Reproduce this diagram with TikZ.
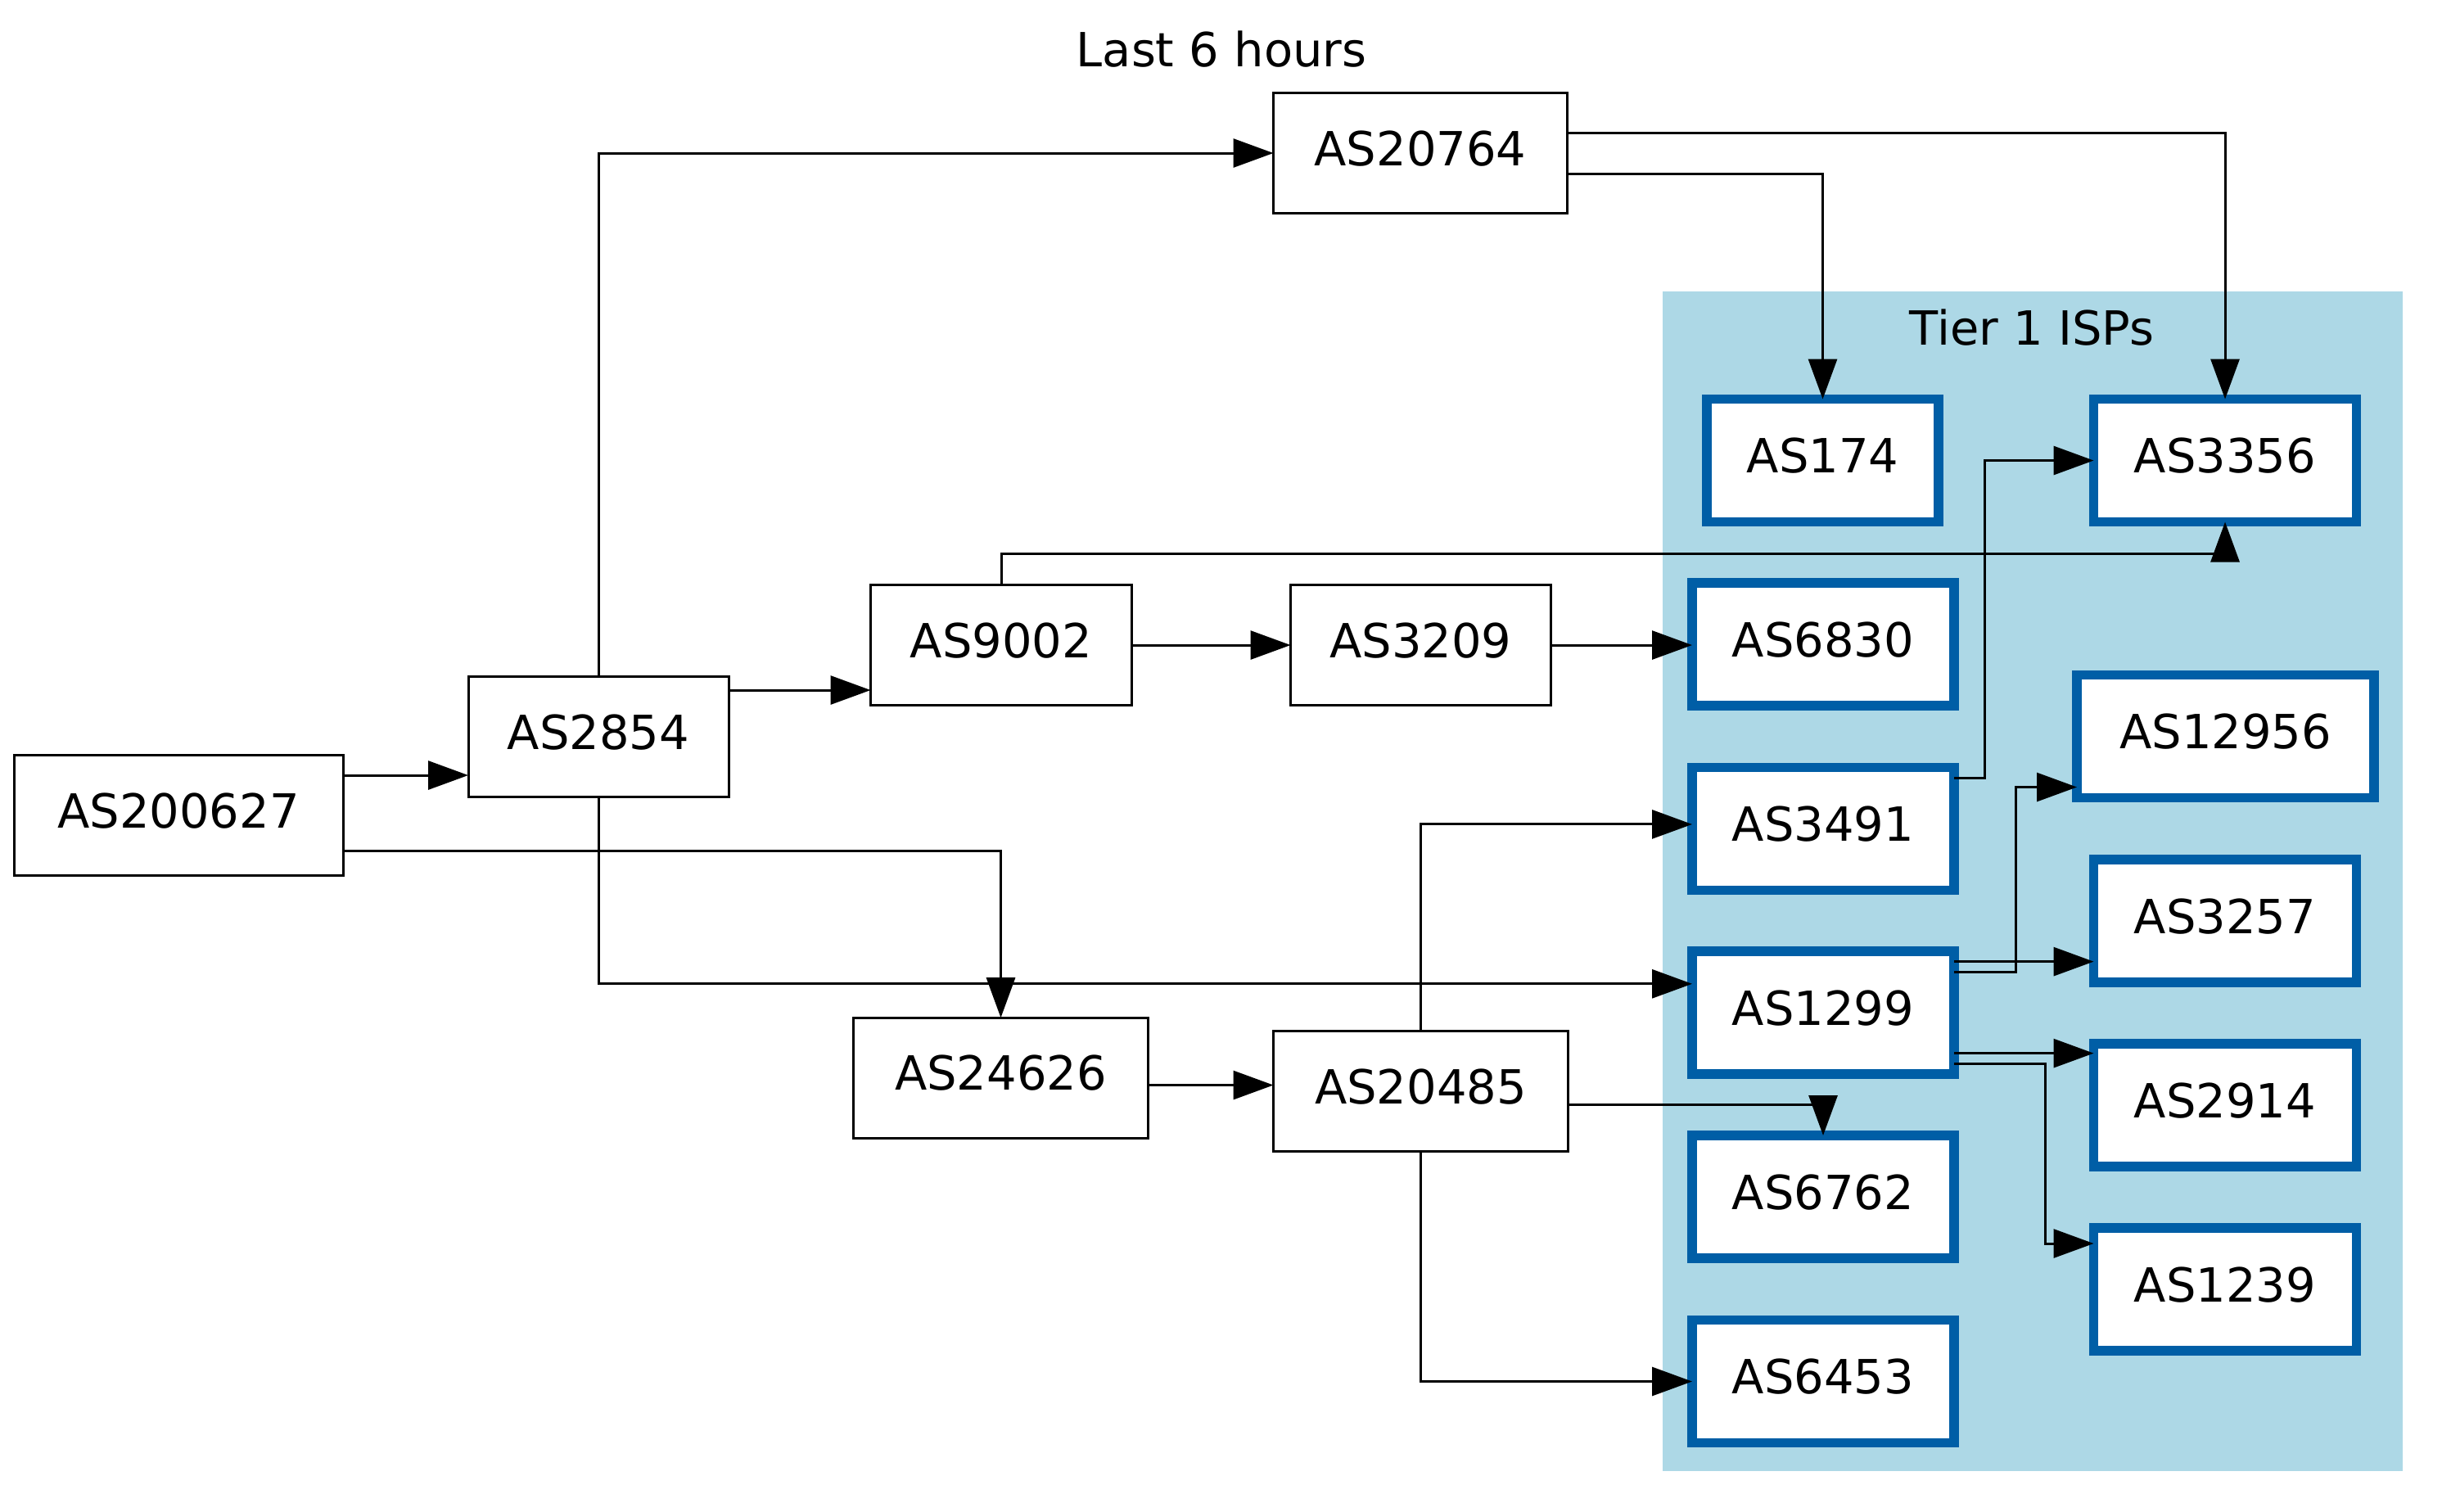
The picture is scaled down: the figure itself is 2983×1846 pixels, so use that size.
\documentclass[tikz,border=0pt]{standalone}
\usepackage{fontspec}
\setmainfont{DejaVu Sans}
\usetikzlibrary{arrows.meta}
\definecolor{clusterfill}{RGB}{173,216,230}
\definecolor{tierblue}{RGB}{0,94,166}
\tikzset{
  asbox/.style={draw=black, line width=0.75pt, fill=white, rectangle, inner sep=0pt, outer sep=0pt,
    minimum height=36.75pt, text height=10.48pt, text depth=2.86pt},
  tierbox/.style={draw=tierblue, line width=2.9pt, fill=white, rectangle, inner sep=0pt, outer sep=0pt,
    minimum height=37.5pt, text height=10.48pt, text depth=2.86pt},
  edge/.style={draw=black, line width=0.75pt, -{Triangle[length=12.25pt,width=8.75pt]}},
  lbl/.style={anchor=base, inner sep=0pt}
}
\begin{document}
\begin{tikzpicture}[x=0.25pt, y=-0.25pt, font=\fontsize{14.375pt}{17pt}\selectfont]
\useasboundingbox (0,0) rectangle (2983,1846);
\fill[white] (0,0) rectangle (2983,1846);
% cluster
\fill[clusterfill] (2030.6,356) rectangle (2934.8,1797);
\node[lbl] (title) at (1492,81) {Last 6 hours};
\node[lbl] (tier) at (2482,421) {Tier 1 ISPs};
% plain nodes
\node[asbox, minimum width=100.5pt] (a200627) at (218,996) {AS200627};
\node[asbox, minimum width=79.5pt] (a2854) at (731,900) {AS2854};
\node[asbox, minimum width=79.75pt] (a9002) at (1223,788) {AS9002};
\node[asbox, minimum width=79.5pt] (a3209) at (1735.5,788) {AS3209};
\node[asbox, minimum width=89.75pt] (a20764) at (1735,187) {AS20764};
\node[asbox, minimum width=90pt] (a24626) at (1222.5,1316.7) {AS24626};
\node[asbox, minimum width=90pt] (a20485) at (1735.5,1333) {AS20485};
% tier 1 nodes
\node[tierbox, minimum width=70.75pt] (a174) at (2226.5,562.5) {AS174};
\node[tierbox, minimum width=80.25pt] (a3356) at (2718,562.5) {AS3356};
\node[tierbox, minimum width=80pt] (a6830) at (2227,787) {AS6830};
\node[tierbox, minimum width=90.75pt] (a12956) at (2718.5,899.5) {AS12956};
\node[tierbox, minimum width=80pt] (a3491) at (2227,1012.5) {AS3491};
\node[tierbox, minimum width=80.25pt] (a3257) at (2718,1125) {AS3257};
\node[tierbox, minimum width=80pt] (a1299) at (2227,1237) {AS1299};
\node[tierbox, minimum width=80.25pt] (a2914) at (2718,1350) {AS2914};
\node[tierbox, minimum width=80pt] (a6762) at (2227,1462) {AS6762};
\node[tierbox, minimum width=80.25pt] (a1239) at (2718,1575) {AS1239};
\node[tierbox, minimum width=80pt] (a6453) at (2227,1687.5) {AS6453};
% edges
\draw[edge] ([yshift=12.25pt]a200627.east) -- ([yshift=12.25pt]a200627.east -| a2854.west);
\draw[edge] ([yshift=-10.85pt]a200627.east) -| (a24626.north);
\draw[edge] (a2854.north) |- (a20764.west);
\draw[edge] ([yshift=14.25pt]a2854.east) -- ([yshift=14.25pt]a2854.east -| a9002.west);
\draw[edge] (a2854.south) |- ([yshift=8.8pt]a1299.west);
\draw[edge] (a9002.east) -- (a3209.west);
\draw[edge] (a9002.north) -- ++(0,9.6pt) -| (a3356.south);
\draw[edge] (a3209.east) -- (a3209.east -| a6830.west);
\draw[edge] ([yshift=6.15pt]a20764.east) -| (a3356.north);
\draw[edge] ([yshift=-6.25pt]a20764.east) -| (a174.north);
\draw[edge] ([yshift=-2.2pt]a24626.east) -- ([yshift=-2.2pt]a24626.east -| a20485.west);
\draw[edge] (a20485.north) |- ([yshift=1.4pt]a3491.west);
\draw[edge] ([yshift=-4.1pt]a20485.east) -| (a6762.north);
\draw[edge] (a20485.south) |- (a6453.west);
\draw[edge] ([yshift=15.6pt]a3491.east) -- ++(9.25pt,0) |- (a3356.west);
\draw[edge] ([yshift=15.6pt]a1299.east) -- ([yshift=15.6pt]a1299.east -| a3257.west);
\draw[edge] ([yshift=12.3pt]a1299.east) -- ++(18.75pt,0) |- ([yshift=-15.5pt]a12956.west);
\draw[edge] ([yshift=-12.4pt]a1299.east) -- ([yshift=-12.4pt]a1299.east -| a2914.west);
\draw[edge] ([yshift=-15.6pt]a1299.east) -- ++(27.95pt,0) |- ([yshift=14pt]a1239.west);
\end{tikzpicture}
\end{document}
